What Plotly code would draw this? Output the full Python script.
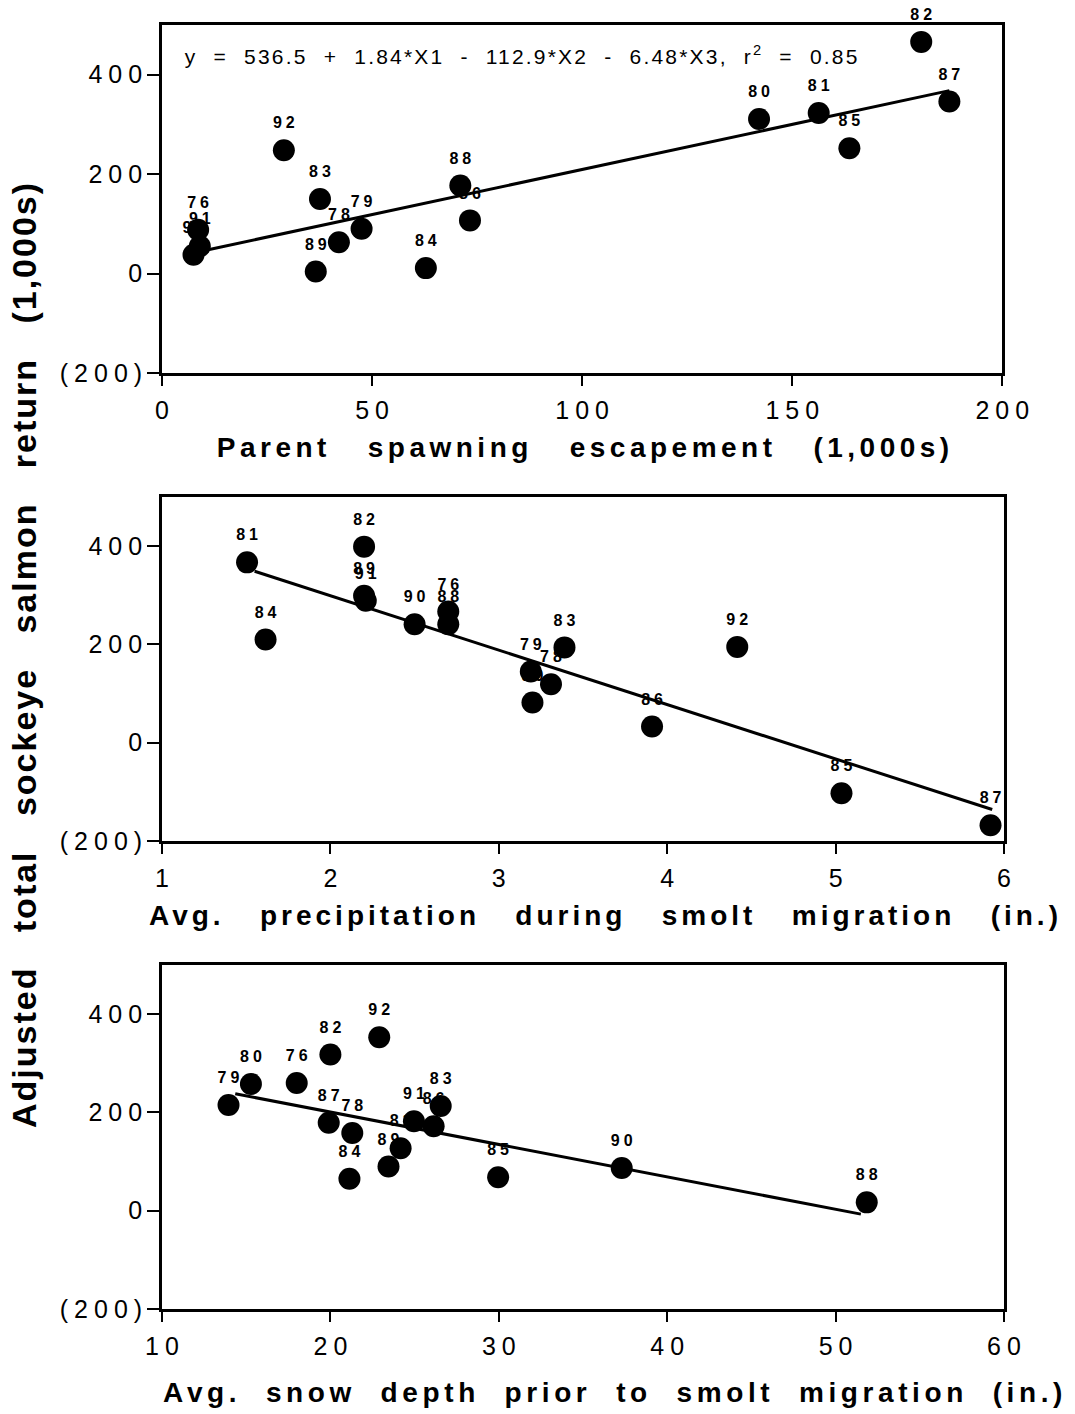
import plotly.graph_objects as go

NB = "\u00a0"

# ---------------- Panel 1: parent spawning escapement ----------------
p1_years = ["82", "87", "80", "81", "85", "92", "83", "88", "86", "79", "78", "89", "84", "76", "91", "90"]
p1_x = [180.7, 187.4, 142.1, 156.3, 163.6, 29.0, 37.6, 71.0, 73.3, 47.5, 42.1, 36.6, 62.8, 8.6, 9.0, 7.5]
p1_y = [466, 346, 311, 323, 252, 248, 150, 177, 107, 90, 63, 4, 11, 88, 55, 38]
p1_fit_x = [11.0, 187.4]
p1_fit_y = [48, 368]

# ---------------- Panel 2: precipitation during smolt migration ----------------
p2_years = ["81", "82", "89", "91", "84", "90", "76", "88", "83", "79", "78", "80", "92", "86", "85", "87"]
p2_x = [1.505, 2.20, 2.20, 2.21, 1.615, 2.50, 2.70, 2.70, 3.39, 3.19, 3.31, 3.20, 4.416, 3.91, 5.035, 5.92]
p2_y = [367, 399, 299, 289, 210, 241, 267, 241, 194, 145, 119, 82, 195, 33, -103, -168]
p2_fit_x = [1.55, 5.93]
p2_fit_y = [349, -136]

# ---------------- Panel 3: snow depth prior to smolt migration ----------------
p3_years = ["79", "80", "76", "82", "92", "87", "78", "84", "89", "81", "91", "86", "83", "85", "90", "88"]
p3_x = [13.95, 15.28, 18.0, 20.0, 22.9, 19.9, 21.3, 21.13, 23.45, 24.17, 24.96, 26.13, 26.55, 29.96, 37.3, 51.85]
p3_y = [215, 258, 260, 318, 353, 179, 158, 65, 90, 127, 182, 172, 213, 68, 87, 17]
p3_fit_x = [14.35, 51.5]
p3_fit_y = [238, -7]

# ---------------- Axis ticks and titles ----------------
y_tickvals = [-200, 0, 200, 400]
y_ticktext = ["(200)", "0", "200", "400"]
x1_ticks = [0, 50, 100, 150, 200]
x2_ticks = [1, 2, 3, 4, 5, 6]
x3_ticks = [10, 20, 30, 40, 50, 60]

title_x1 = "Parent spawning escapement (1,000s)"
title_x2 = "Avg. precipitation during smolt migration (in.)"
title_x3 = "Avg. snow depth prior to smolt migration (in.)"
title_y = "Adjusted total sockeye salmon return (1,000s)"
equation = "y = 536.5 + 1.84*X1 - 112.9*X2 - 6.48*X3, r<sup>2</sup> = 0.85"


def wide(s, n=2):
    return s.replace(" ", NB * n + " ")


W, H = 1075, 1414
ML, MR, MT, MB = 162, 71, 25, 105
PW, PH = W - ML - MR, H - MT - MB


def px(xp):
    return (xp - ML) / PW


def py(yp):
    return (H - MB - yp) / PH


fig = go.Figure()

panels = [
    (p1_years, p1_x, p1_y, p1_fit_x, p1_fit_y, "x", "y"),
    (p2_years, p2_x, p2_y, p2_fit_x, p2_fit_y, "x2", "y2"),
    (p3_years, p3_x, p3_y, p3_fit_x, p3_fit_y, "x3", "y3"),
]

for yrs, xs, ys, fx, fy, xa, ya in panels:
    # year labels (drawn underneath the line and dots)
    fig.add_trace(go.Scatter(
        x=xs, y=ys, text=yrs, mode="markers+text", textposition="top center",
        marker=dict(size=27, color="rgba(0,0,0,0)"),
        textfont=dict(family="Liberation Sans, Arial", size=16, color="black", weight=700),
        xaxis=xa, yaxis=ya, hoverinfo="skip", showlegend=False, cliponaxis=False))
    # regression line
    fig.add_trace(go.Scatter(
        x=fx, y=fy, mode="lines", line=dict(color="black", width=3),
        xaxis=xa, yaxis=ya, hoverinfo="skip", showlegend=False))
    # points
    fig.add_trace(go.Scatter(
        x=xs, y=ys, mode="markers", marker=dict(size=22, color="black"),
        xaxis=xa, yaxis=ya, hoverinfo="skip", showlegend=False, cliponaxis=False))

axis_common = dict(showline=True, mirror=True, linecolor="black", linewidth=2.7,
                   ticks="outside", tickcolor="black", tickwidth=2,
                   showgrid=False, zeroline=False,
                   tickfont=dict(family="Liberation Sans, Arial", size=25, color="black"))

xdoms = [[0, 0.998], [0, 1.0], [0, 1.0]]
ydoms = [[py(373), 1.0], [py(841), py(497)], [0.0, py(965)]]
xranges = [[0, 200], [1, 6], [10, 60]]
xticks = [x1_ticks, x2_ticks, x3_ticks]

layout = dict(width=W, height=H, margin=dict(l=ML, r=MR, t=MT, b=MB),
              plot_bgcolor="white", paper_bgcolor="white", showlegend=False)
for i in range(3):
    sfx = "" if i == 0 else str(i + 1)
    layout["xaxis" + sfx] = dict(axis_common, domain=xdoms[i], range=xranges[i],
                                 tickvals=xticks[i], ticklen=10, ticklabelstandoff=3,
                                 anchor="y" + sfx)
    layout["yaxis" + sfx] = dict(axis_common, domain=ydoms[i], range=[-200, 500],
                                 tickvals=y_tickvals, ticktext=y_ticktext,
                                 ticklen=12, ticklabelstandoff=0, anchor="x" + sfx)
fig.update_layout(**layout)

bold_font = dict(family="Liberation Sans, Arial", size=28, color="black", weight=700)
annotations = [
    dict(text=wide(equation, 1), x=85.7, y=440, xref="x", yref="y", xanchor="center",
         yanchor="middle", showarrow=False,
         font=dict(family="Liberation Sans, Arial", size=21, color="black")),
    dict(text=wide(title_x1), x=px(585), y=py(447), xref="paper", yref="paper",
         xanchor="center", yanchor="middle", showarrow=False, font=bold_font),
    dict(text=wide(title_x2), x=px(605), y=py(915), xref="paper", yref="paper",
         xanchor="center", yanchor="middle", showarrow=False, font=bold_font),
    dict(text=wide(title_x3, 1), x=px(615), y=py(1392), xref="paper", yref="paper",
         xanchor="center", yanchor="middle", showarrow=False, font=bold_font),
    dict(text=wide(title_y), x=px(24), y=py(655), xref="paper", yref="paper",
         xanchor="center", yanchor="middle", showarrow=False, textangle=-90,
         font=dict(family="Liberation Sans Narrow, Arial Narrow, Liberation Sans", size=34,
                   color="black", weight=700)),
]
fig.update_layout(annotations=annotations)

post = """
var gd = document.getElementById('{plot_id}');
function sp(){
  gd.querySelectorAll('g.xtick text, g.x2tick text, g.x3tick text').forEach(function(t){
    t.style.letterSpacing='6px'; t.setAttribute('dx', '3');
  });
  gd.querySelectorAll('g.ytick text, g.y2tick text, g.y3tick text').forEach(function(t){
    t.style.letterSpacing='6px'; t.setAttribute('dx', '6');
  });
  gd.querySelectorAll('g.textpoint text').forEach(function(t){
    t.style.letterSpacing='4px'; t.setAttribute('dx', '2');
  });
  var spec = {'0':'2.2px','1':'4.5px','2':'4px','3':'4.6px','4':'2px'};
  gd.querySelectorAll('g.annotation').forEach(function(g){
    var i = g.getAttribute('data-index');
    var t = g.querySelector('text');
    if (t && spec[i]) { t.style.letterSpacing = spec[i]; }
  });
}
sp();
gd.on('plotly_afterplot', sp);
"""

fig.write_html("out.html", post_script=post)
